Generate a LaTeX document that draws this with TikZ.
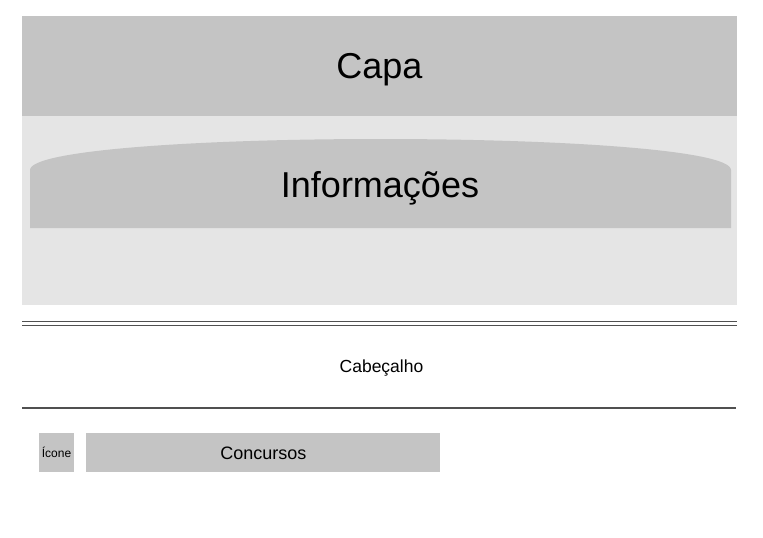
\documentclass[tikz,border=0pt]{standalone}
\usepackage{fontspec}
\setmainfont{Liberation Sans}
\usetikzlibrary{positioning}
\definecolor{cinza}{HTML}{C4C4C4}
\definecolor{cinzaclaro}{HTML}{E5E5E5}
\definecolor{linha}{HTML}{505050}
\begin{document}
\begin{tikzpicture}[
                x=1pt, y=-1pt,
                bloco/.style={rectangle, fill=cinza, inner sep=0pt},
                grande/.style={font=\fontsize{36}{40}\selectfont, inner sep=0pt, text height=25pt, text depth=0pt},
                divisor/.style={draw=linha, line width=1pt}
            ]
                \useasboundingbox (0,0) rectangle (763,538);
                \fill[cinzaclaro] (22,116) rectangle (737,305);
                \node[bloco, grande, minimum width=715pt, minimum height=100pt] (capa) at (379.5,66) {Capa};
                \fill[cinza] (30,228) -- (30,170) .. controls (30,150) and (200,139) .. (380.5,139)
                    .. controls (561,139) and (731,150) .. (731,170) -- (731,228) -- cycle;
                \node[grande] (info) at (380,184.5) {Informações};

                \draw[divisor] (22,321) -- (737,321);
                \draw[divisor] (22,325) -- (737,325);
                \node[font=\fontsize{17.5}{20}\selectfont, inner sep=0pt, text height=12pt, text depth=0pt] (cabecalho) at (381.5,366) {Cabeçalho};
                \draw[divisor, line width=2pt] (22,408) -- (736,408);

                \node[bloco, minimum width=35pt, minimum height=39pt, font=\fontsize{12}{14}\selectfont, text height=9pt, text depth=0pt] (icone) at (56.5,452.5) {Ícone};
                \node[bloco, minimum width=354pt, minimum height=39pt, font=\fontsize{18}{20}\selectfont, text height=13pt, text depth=0pt, right=12pt of icone] (concursos) {Concursos};
            \end{tikzpicture}
\end{document}
